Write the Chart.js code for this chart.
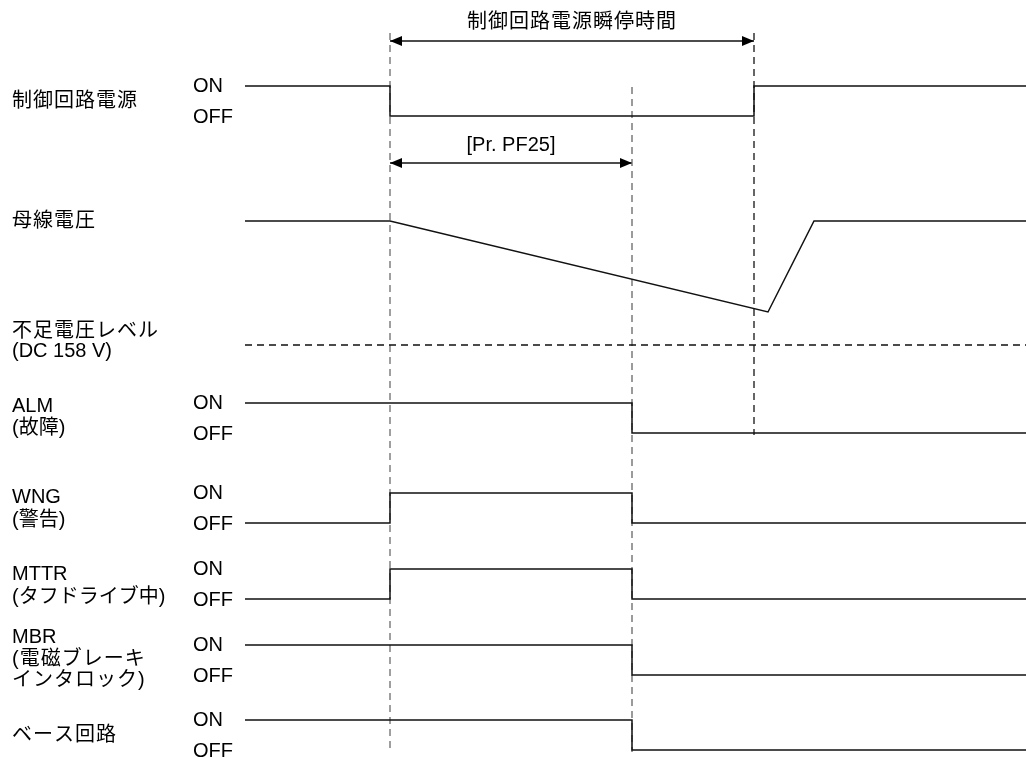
<!DOCTYPE html>
<html>
<head>
<meta charset="utf-8">
<script src="https://cdn.jsdelivr.net/npm/chart.js@4/dist/chart.umd.min.js"></script>
<style>
	html, body { margin: 0; padding: 0; background: #fff; }
	canvas { display: block; }
</style>
</head>
<body>
<canvas id="canvas" width="1026" height="758"></canvas>
<script>
// time axis events (diagram units)
var T_START = 245, T_OFF = 390, T_PF25 = 632, T_ON = 754, T_MIN = 768, T_RISE = 814, T_END = 1026;

// signal rows: names, ON level, OFF level
var rowNames = ['制御回路電源', 'ALM', 'WNG', 'MTTR', 'MBR', 'ベース回路'];
var rowOn  = [86, 403, 493, 569, 645, 720];
var rowOff = [116, 433, 523, 599, 675, 750];
// state changes per row: [time, 1=ON / 0=OFF]
var rowSteps = [
	[[T_START, 1], [T_OFF, 0], [T_ON, 1], [T_END, 1]],
	[[T_START, 1], [T_PF25, 0], [T_END, 0]],
	[[T_START, 0], [T_OFF, 1], [T_PF25, 0], [T_END, 0]],
	[[T_START, 0], [T_OFF, 1], [T_PF25, 0], [T_END, 0]],
	[[T_START, 1], [T_PF25, 0], [T_END, 0]],
	[[T_START, 1], [T_PF25, 0], [T_END, 0]]
];

// bus voltage
var busTimes  = [T_START, T_OFF, T_MIN, T_RISE, T_END];
var busLevels = [221, 221, 312, 221, 221];
var underLevel = 345;

// vertical guides: time, top, bottom
var guideTimes   = [T_OFF, T_PF25, T_ON];
var guideTop     = [33, 87, 33];
var guideBottom  = [752, 752, 435];
var guideColors  = ['#808080', '#7a7a7a', '#333333'];

// arrows: from, to, level
var arrowFrom  = [T_OFF, T_OFF];
var arrowTo    = [T_ON, T_PF25];
var arrowLevel = [41, 163];
var arrowText  = ['制御回路電源瞬停時間', '[Pr. PF25]'];
var arrowTextLevel = [22, 145];

// left labels: lines and their levels
var leftLabels = [
	['制御回路電源'], ['母線電圧'], ['不足電圧レベル', '(DC 158 V)'], ['ALM', '(故障)'],
	['WNG', '(警告)'], ['MTTR', '(タフドライブ中)'], ['MBR', '(電磁ブレーキ', 'インタロック)'], ['ベース回路']
];
var leftLevels = [
	[101], [221], [331, 351], [406, 428],
	[497, 520], [574, 597], [637, 659, 680], [735]
];

var FONT = "20px 'Liberation Sans', 'Noto Sans CJK JP', sans-serif";

function spacingFor(s) {
	// the reference's Japanese glyphs run a little wider
	return (/^[^\x00-\x7f]/.test(s) || s.indexOf('電磁') >= 0) ? '1px' : '0px';
}

var datasets = [];
for (var i = 0; i < rowSteps.length; i++) {
	var pts = [];
	for (var j = 0; j < rowSteps[i].length; j++) {
		var s = rowSteps[i][j];
		pts.push({x: s[0], y: s[1] ? rowOn[i] : rowOff[i]});
	}
	datasets.push({data: pts, stepped: true, borderColor: '#111', borderWidth: 1.5});
}
var busPts = [];
for (var i = 0; i < busTimes.length; i++) busPts.push({x: busTimes[i], y: busLevels[i]});
datasets.push({data: busPts, borderColor: '#111', borderWidth: 1.5});
datasets.push({data: [{x: T_START, y: underLevel}, {x: T_END, y: underLevel}],
	borderColor: '#111', borderWidth: 1.5, borderDash: [7, 5]});
for (var i = 0; i < guideTimes.length; i++) {
	datasets.push({data: [{x: guideTimes[i], y: guideTop[i]}, {x: guideTimes[i], y: guideBottom[i]}],
		borderColor: guideColors[i], borderWidth: 1.5, borderDash: [7, 5]});
}
for (var i = 0; i < arrowFrom.length; i++) {
	datasets.push({data: [{x: arrowFrom[i], y: arrowLevel[i]}, {x: arrowTo[i], y: arrowLevel[i]}],
		borderColor: '#111', borderWidth: 1.3, arrows: true});
}

var textPlugin = {
	id: 'texts',
	afterDatasetsDraw: function(chart) {
		var ctx = chart.ctx;
		var xs = chart.scales.x, ys = chart.scales.y;
		ctx.save();
		ctx.fillStyle = '#000';
		ctx.font = FONT;
		ctx.textBaseline = 'middle';
		// arrow heads
		chart.data.datasets.forEach(function(ds) {
			if (!ds.arrows) return;
			var a = ds.data[0], b = ds.data[1];
			var y = ys.getPixelForValue(a.y);
			[[xs.getPixelForValue(a.x), 1], [xs.getPixelForValue(b.x), -1]].forEach(function(h) {
				ctx.beginPath();
				ctx.moveTo(h[0], y);
				ctx.lineTo(h[0] + h[1] * 12, y - 5);
				ctx.lineTo(h[0] + h[1] * 12, y + 5);
				ctx.closePath();
				ctx.fill();
			});
		});
		// arrow captions
		ctx.textAlign = 'center';
		for (var i = 0; i < arrowText.length; i++) {
			var cx = (xs.getPixelForValue(arrowFrom[i]) + xs.getPixelForValue(arrowTo[i])) / 2;
			ctx.letterSpacing = spacingFor(arrowText[i]);
			ctx.fillText(arrowText[i], cx, ys.getPixelForValue(arrowTextLevel[i]));
		}
		// left labels
		ctx.textAlign = 'left';
		for (var i = 0; i < leftLabels.length; i++) {
			for (var j = 0; j < leftLabels[i].length; j++) {
				ctx.letterSpacing = spacingFor(leftLabels[i][j]);
				ctx.fillText(leftLabels[i][j], 12, ys.getPixelForValue(leftLevels[i][j]));
			}
		}
		ctx.letterSpacing = '0px';
		// ON / OFF
		for (var i = 0; i < rowOn.length; i++) {
			ctx.fillText('ON', 193, ys.getPixelForValue(rowOn[i]));
			ctx.fillText('OFF', 193, ys.getPixelForValue(rowOff[i] + 1));
		}
		ctx.restore();
	}
};

new Chart(document.getElementById('canvas').getContext('2d'), {
	type: 'line',
	data: {datasets: datasets},
	options: {
		responsive: false,
		animation: false,
		devicePixelRatio: 1,
		layout: {padding: 0},
		elements: {point: {radius: 0}, line: {tension: 0}},
		datasets: {line: {clip: false, fill: false}},
		plugins: {legend: {display: false}, tooltip: {enabled: false}},
		scales: {
			x: {type: 'linear', min: 0, max: 1026, display: false},
			y: {type: 'linear', min: 0, max: 758, reverse: true, display: false}
		}
	},
	plugins: [textPlugin]
});
</script>
</body>
</html>
